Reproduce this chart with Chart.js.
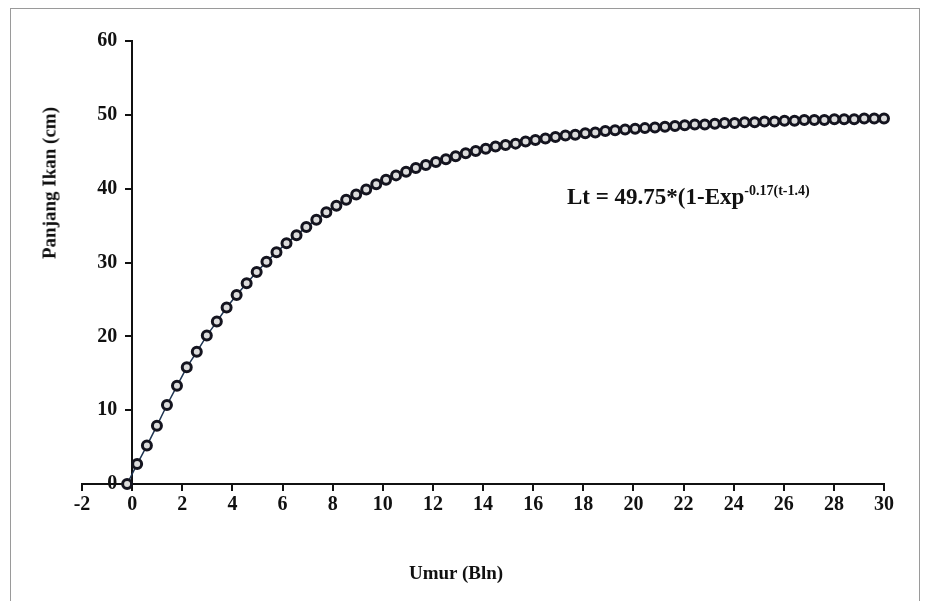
<!DOCTYPE html>
<html>
<head>
<meta charset="utf-8">
<script src="https://cdn.jsdelivr.net/npm/chart.js@4.4.1/dist/chart.umd.min.js"></script>
<style>
  body { margin: 0; background: #fff; }
  #wrap { position: relative; width: 929px; height: 601px; overflow: hidden; }
  #frame { position: absolute; left: 10px; top: 8px; width: 908px; height: 640px; border: 1px solid #9a9a9a; }
  canvas { position: absolute; left: 0; top: 0; }
  .lbl { position: absolute; font-family: "Liberation Serif", "Times New Roman", serif; font-weight: bold; color: #111; white-space: nowrap; line-height: 1; }
  #xTitle { left: 456px; top: 572px; font-size: 19px; transform: translate(-50%, -50%); }
  #yTitle { left: 49px; top: 183px; font-size: 19px; transform: translate(-50%, -50%) rotate(-90deg); }
  #eq { left: 567px; top: 184px; font-size: 23px; }
  #eq sup { font-size: 14px; }
</style>
</head>
<body>
<div id="wrap">
  <div id="frame"></div>
  <canvas id="growth" width="929" height="601"></canvas>
  <div class="lbl" id="xTitle">Umur (Bln)</div>
  <div class="lbl" id="yTitle">Panjang Ikan (cm)</div>
  <div class="lbl" id="eq">Lt = 49.75*(1-Exp<sup>-0.17(t-1.4)</sup></div>
</div>
<script>
// umur (bulan) and panjang (cm)
const umur = [
  -0.20, 0.20, 0.59, 0.99, 1.39, 1.79, 2.18, 2.58, 2.98, 3.38,
  3.77, 4.17, 4.57, 4.97, 5.36, 5.76, 6.16, 6.56, 6.95, 7.35,
  7.75, 8.15, 8.54, 8.94, 9.34, 9.74, 10.13, 10.53, 10.93, 11.32,
  11.72, 12.12, 12.52, 12.91, 13.31, 13.71, 14.11, 14.50, 14.90, 15.30,
  15.70, 16.09, 16.49, 16.89, 17.29, 17.68, 18.08, 18.48, 18.88, 19.27,
  19.67, 20.07, 20.46, 20.86, 21.26, 21.66, 22.05, 22.45, 22.85, 23.25,
  23.64, 24.04, 24.44, 24.84, 25.23, 25.63, 26.03, 26.43, 26.82, 27.22,
  27.62, 28.02, 28.41, 28.81, 29.21, 29.61, 30.00
];
const panjang = [
  0, 2.7, 5.2, 7.9, 10.7, 13.3, 15.8, 17.9, 20.1, 22.0,
  23.9, 25.6, 27.2, 28.7, 30.1, 31.4, 32.6, 33.7, 34.8, 35.8,
  36.8, 37.7, 38.5, 39.2, 39.9, 40.6, 41.2, 41.8, 42.3, 42.8,
  43.2, 43.6, 44.0, 44.4, 44.8, 45.1, 45.4, 45.7, 45.9, 46.1,
  46.4, 46.6, 46.8, 47.0, 47.2, 47.3, 47.5, 47.6, 47.8, 47.9,
  48.0, 48.1, 48.2, 48.3, 48.4, 48.5, 48.6, 48.7, 48.7, 48.8,
  48.9, 48.9, 49.0, 49.0, 49.1, 49.1, 49.2, 49.2, 49.3, 49.3,
  49.3, 49.4, 49.4, 49.4, 49.5, 49.5, 49.5
];
const xTicks = [-2, 0, 2, 4, 6, 8, 10, 12, 14, 16, 18, 20, 22, 24, 26, 28, 30];
const yTicks = [0, 10, 20, 30, 40, 50, 60];

const points = umur.map((u, i) => ({ x: u, y: panjang[i] }));
const tickFont = { family: "'Liberation Serif', 'Times New Roman', serif", size: 20, weight: "bold" };

new Chart(document.getElementById("growth"), {
  type: "scatter",
  data: {
    datasets: [
      {
        data: points,
        showLine: true,
        borderColor: "#1f3552",
        borderWidth: 1.5,
        pointRadius: 4.5,
        pointBorderWidth: 3,
        pointBorderColor: "#14141f",
        pointBackgroundColor: "#dcdcdc",
        clip: false,
      },
    ],
  },
  options: {
    responsive: false,
    animation: false,
    devicePixelRatio: 1,
    layout: { padding: { left: 82, right: 45, top: 41, bottom: 117 } },
    plugins: {
      legend: { display: false },
      tooltip: { enabled: false },
    },
    scales: {
      x: {
        type: "linear",
        min: xTicks[0],
        max: xTicks[xTicks.length - 1],
        position: { y: 0 },
        afterBuildTicks: (s) => { s.ticks = xTicks.map((v) => ({ value: v })); },
        ticks: { color: "#111", font: tickFont, padding: 3, maxRotation: 0, autoSkip: false },
        grid: { drawOnChartArea: false, tickLength: 6, color: "#111", lineWidth: 2 },
        border: { color: "#111", width: 2 },
      },
      y: {
        min: yTicks[0],
        max: yTicks[yTicks.length - 1],
        position: { x: 0 },
        afterBuildTicks: (s) => { s.ticks = yTicks.map((v) => ({ value: v })); },
        // labels sit on the axis line when the axis is placed at x = 0, so pad them on the right
        ticks: { color: "#111", font: tickFont, callback: (v) => v + "\u2002 " },
        grid: { drawOnChartArea: false, tickLength: 6, color: "#111", lineWidth: 2 },
        border: { color: "#111", width: 2 },
      },
    },
  },
});
</script>
</body>
</html>
